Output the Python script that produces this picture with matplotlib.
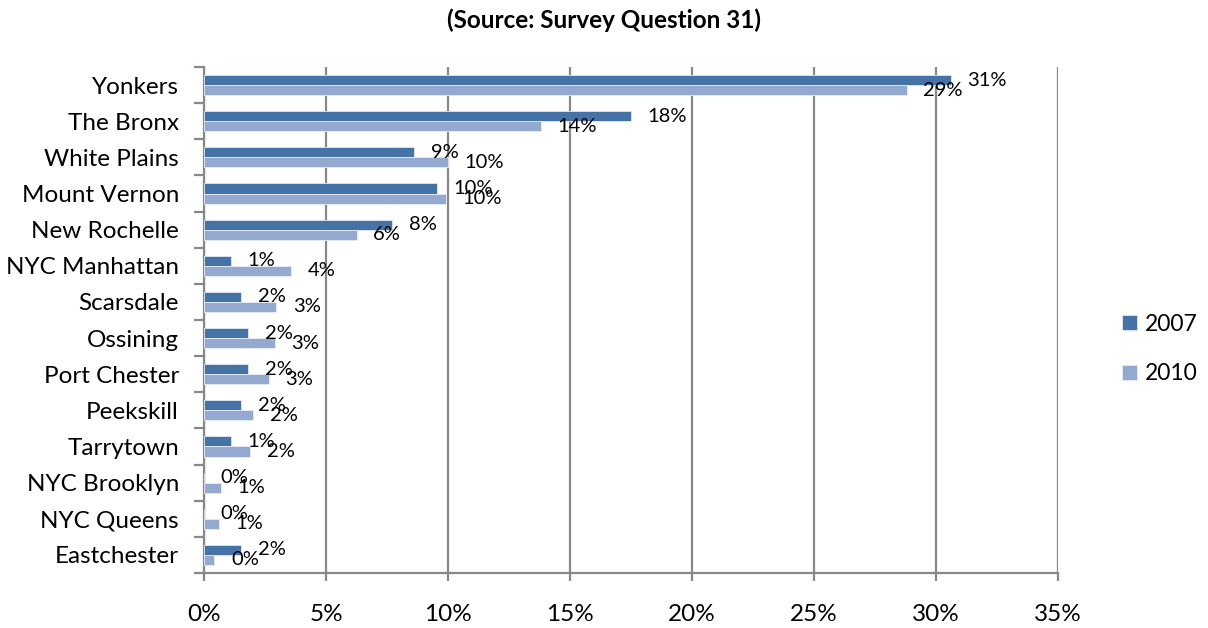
import numpy as np
import matplotlib.pyplot as plt
from matplotlib.ticker import FuncFormatter, FixedLocator

plt.rcParams['font.family'] = ['Lato', 'DejaVu Sans']

places = ['Yonkers', 'The Bronx', 'White Plains', 'Mount Vernon', 'New Rochelle',
          'NYC Manhattan', 'Scarsdale', 'Ossining', 'Port Chester', 'Peekskill',
          'Tarrytown', 'NYC Brooklyn', 'NYC Queens', 'Eastchester']
pct_2007 = [30.6, 17.5, 8.6, 9.55, 7.7, 1.1, 1.52, 1.8, 1.8, 1.52, 1.1, 0.0, 0.0, 1.52]
pct_2010 = [28.8, 13.8, 10.0, 9.9, 6.25, 3.55, 2.97, 2.9, 2.66, 2.02, 1.9, 0.7, 0.6, 0.42]

c07 = '#4572A7'
c10 = '#93A9CF'
grid_c = '#888888'

fig = plt.figure(figsize=(12.08, 6.28), dpi=100)
ax = fig.add_axes([204 / 1208, 1 - 573 / 628, (1058 - 204) / 1208, (573 - 67) / 628])

n = len(places)
y = np.arange(n)
h = 0.28
ax.barh(y - h / 2, pct_2007, height=h, color=c07, edgecolor='#dfe6f0', linewidth=0.6,
        label='2007', zorder=3)
ax.barh(y + h / 2, pct_2010, height=h, color=c10, edgecolor='#e8edf5', linewidth=0.6,
        label='2010', zorder=3)

for yi, v in zip(y, pct_2007):
    ax.annotate(f'{round(v):d}%', (v, yi - h / 2), xytext=(12, 0), textcoords='offset points',
                ha='left', va='center', fontsize=14.5, zorder=4)
for yi, v in zip(y, pct_2010):
    ax.annotate(f'{round(v):d}%', (v, yi + h / 2), xytext=(12, 0), textcoords='offset points',
                ha='left', va='center', fontsize=14.5, zorder=4)

ax.set_xlim(0, 35)
ax.set_ylim(n - 0.5, -0.5)
ax.set_xticks(np.arange(0, 36, 5))
ax.xaxis.set_major_formatter(FuncFormatter(lambda v, _: f'{v:.0f}%'))
ax.set_yticks(y)
ax.set_yticklabels(places)
ax.yaxis.set_minor_locator(FixedLocator(np.arange(-0.5, n, 1.0)))

ax.grid(axis='x', color=grid_c, linewidth=1.6, zorder=0)
ax.grid(axis='y', visible=False)
for s in ['top', 'right']:
    ax.spines[s].set_visible(False)
for s in ['left', 'bottom']:
    ax.spines[s].set_color(grid_c)
    ax.spines[s].set_linewidth(1.6)

ax.tick_params(axis='y', which='major', length=0, pad=18, labelsize=17.5)
ax.tick_params(axis='y', which='minor', length=7, width=1.6, color=grid_c)
ax.tick_params(axis='x', which='major', length=6, width=1.6, color=grid_c, pad=16, labelsize=17.5)

fig.text(0.5, 1 - 20 / 628, '(Source: Survey Question 31)', ha='center', va='center',
         fontsize=17.5, fontweight='bold')

fig.legend(loc='center left', bbox_to_anchor=(1106 / 1208, 1 - 349 / 628), frameon=False,
           fontsize=16.5, handlelength=0.65, handleheight=0.65, labelspacing=1.25,
           handletextpad=0.35, borderaxespad=0.3)

fig.savefig('out.png', dpi=100)
